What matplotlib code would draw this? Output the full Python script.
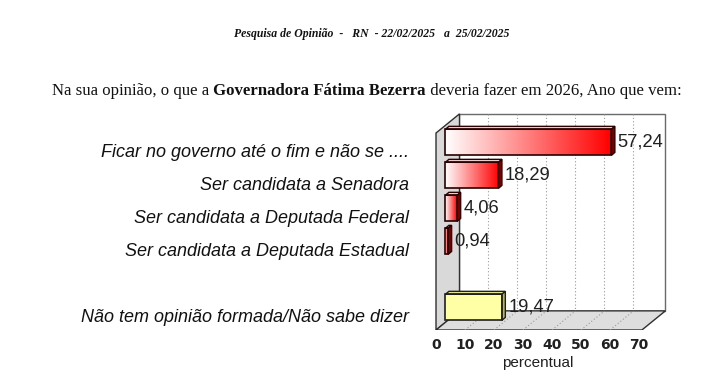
import numpy as np
import matplotlib
matplotlib.use("Agg")
import matplotlib.pyplot as plt
from matplotlib.patches import Polygon, Rectangle
from matplotlib.colors import LinearSegmentedColormap

# ===== data =====
categories = ["Ficar no governo até o fim e não se ....",
              "Ser candidata a Senadora",
              "Ser candidata a Deputada Federal",
              "Ser candidata a Deputada Estadual",
              "",
              "Não tem opinião formada/Não sabe dizer"]
values = [57.24, 18.29, 4.06, 0.94, None, 19.47]
bar_kind = ["red", "red", "red", "red", None, "yellow"]
xticks = [0, 10, 20, 30, 40, 50, 60, 70]

header = "Pesquisa de Opinião  -   RN  - 22/02/2025   a  25/02/2025"
sub_parts = [("Na sua opinião, o que a ", "normal"),
             ("Governadora Fátima Bezerra", "bold"),
             (" deveria fazer em 2026, Ano que vem:", "normal")]

# ===== geometry =====
W, H = 720, 379
fig = plt.figure(figsize=(W / 100, H / 100), dpi=100)
ax = fig.add_axes([420 / W, (H - 330) / H, 260 / W, 225 / H])

xmin, xmax = -5.52, 84.14
ytop, ybot = -1.364, 5.4545
dep_x, dep_y = 8.1, -0.58          # depth of the 3d box
front_top = -0.515
f = 0.4                            # bars sit a bit inside the box
bdx, bdy = dep_x * f, dep_y * f
bh = 0.79
sx, sy = 1.2, -0.09                # bar thickness

# walls
left_wall = Polygon([(0, front_top), (0, ybot), (dep_x, ybot + dep_y), (dep_x, front_top + dep_y)],
                    closed=True, fc="#d9d9d9", ec="#303030", lw=1.0, zorder=1)
back_wall = Rectangle((dep_x, front_top + dep_y), 71, (ybot - front_top),
                      fc="white", ec="#6a6a6a", lw=1.0, zorder=0.5)
floor = Polygon([(0, ybot), (71, ybot), (71 + dep_x, ybot + dep_y), (dep_x, ybot + dep_y)],
                closed=True, fc="#dedede", ec="#303030", lw=1.0, zorder=1)
ax.add_patch(back_wall)
ax.add_patch(left_wall)
ax.add_patch(floor)
for t in xticks[1:-1]:
    ax.plot([t + dep_x, t + dep_x], [front_top + dep_y, ybot + dep_y], ls=(0, (1, 2)),
            color="#9a9a9a", lw=0.8, zorder=0.8)
    ax.plot([t, t + dep_x], [ybot, ybot + dep_y], ls=(0, (1, 2)), color="#9a9a9a", lw=0.8, zorder=1.1)

red_cmap = LinearSegmentedColormap.from_list("wr", ["#ffffff", "#ff0000"])
grad = np.linspace(0, 1, 256).reshape(1, -1)

for i, (v, kind) in enumerate(zip(values, bar_kind)):
    if v is None:
        continue
    x0, x1 = bdx, bdx + v
    yc = i + bdy
    yt, yb = yc - bh / 2, yc + bh / 2
    if kind == "red":
        ax.imshow(grad, cmap=red_cmap, extent=(x0, x1, yb, yt), aspect="auto",
                  interpolation="bilinear", zorder=3)
        top_c, side_c, edge_c = "#f3d6d6", "#7a0000", "#2a0000"
    else:
        ax.add_patch(Rectangle((x0, yt), v, bh, fc="#ffffa6", ec="none", zorder=3))
        top_c, side_c, edge_c = "#ecec90", "#b8b860", "#202020"
    ax.add_patch(Rectangle((x0, yt), v, bh, fc="none", ec=edge_c, lw=1.2, zorder=3.5))
    ax.add_patch(Polygon([(x0, yt), (x1, yt), (x1 + sx, yt + sy), (x0 + sx, yt + sy)],
                         closed=True, fc=top_c, ec=edge_c, lw=1.0, zorder=3.4))
    ax.add_patch(Polygon([(x1, yt), (x1, yb), (x1 + sx, yb + sy), (x1 + sx, yt + sy)],
                         closed=True, fc=side_c, ec=edge_c, lw=1.0, zorder=3.4))
    ax.text(x1 + sx + 1.0, yc, f"{v:.2f}".replace(".", ","), ha="left", va="center",
            family="Liberation Sans", fontsize=13.2, color="#202020", zorder=4)

ax.set_xlim(xmin, xmax)
ax.set_ylim(ybot, ytop)
for s in ax.spines.values():
    s.set_visible(False)
ax.set_xticks(xticks)
ax.set_xticklabels([str(t) for t in xticks], family="DejaVu Sans", fontweight="bold",
                   fontsize=10, color="#202020")
ax.tick_params(axis="x", length=0, pad=6)
ax.set_yticks(range(len(categories)))
ax.set_yticklabels(categories, family="Liberation Sans", style="italic", fontsize=13, color="#111111")
ax.tick_params(axis="y", length=0, pad=8)
ax.set_xlabel("percentual", family="Liberation Sans", fontsize=11, color="#202020")
ax.xaxis.set_label_coords(0.454, -0.115)
ax.set_facecolor("none")

fig.text(372 / W, 1 - 34 / H, header, ha="center", va="center", family="Liberation Serif",
         style="italic", fontweight="bold", fontsize=8.5, color="#111111")

# subtitle with bold middle part
fig.canvas.draw()
r = fig.canvas.get_renderer()
xpos = 52
for txt, wt in sub_parts:
    t = fig.text(xpos / W, 1 - 91 / H, txt, ha="left", va="center", family="Liberation Serif",
                 fontweight=wt, fontsize=12.1, color="#111111")
    bb = t.get_window_extent(r)
    xpos = bb.x1

fig.savefig("out.png", dpi=100)
